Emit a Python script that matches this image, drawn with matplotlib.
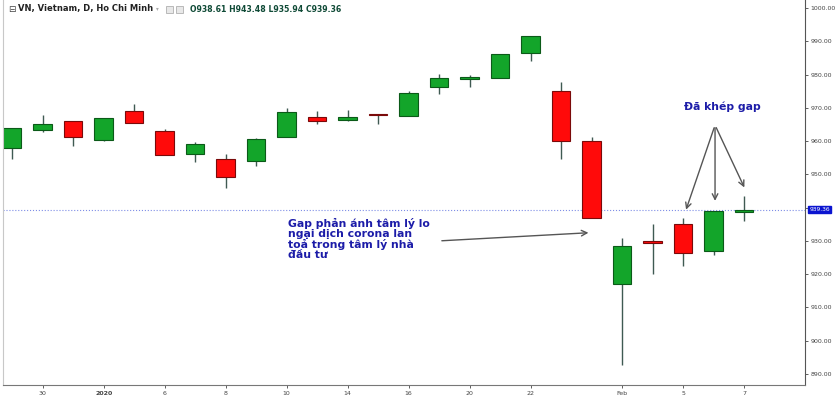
import numpy as np
import matplotlib.pyplot as plt
from matplotlib.patches import Rectangle

# daily VN-Index candles, Dec 27 2019 .. Feb 7 2020
dates = ['27', '30', '31', '2020', '3', '6', '7', '8', '9', '10', '13', '14', '15',
         '16', '17', '20', '21', '22', '23', '31', 'Feb', '4', '5', '6', '7']
opens = [957.9, 963.2, 966.0, 960.3, 968.9, 963.1, 956.0, 954.5, 954.0, 961.3, 967.2, 966.4, 968.0,
         967.5, 976.3, 978.8, 978.9, 986.6, 975.1, 959.9, 917.2, 929.7, 935.0, 926.9, 938.61]
highs = [964.0, 967.8, 966.0, 967.0, 971.2, 963.6, 959.7, 956.1, 961.0, 970.0, 969.0, 969.2, 968.0,
         975.1, 980.2, 979.9, 986.3, 991.5, 977.8, 961.3, 930.8, 935.2, 936.8, 939.0, 943.48]
lows = [954.5, 962.8, 958.5, 960.0, 965.3, 955.9, 953.6, 945.8, 952.5, 961.3, 965.0, 966.1, 965.2,
        967.5, 974.2, 976.3, 978.9, 984.2, 954.5, 936.9, 892.6, 920.0, 922.5, 925.8, 935.94]
closes = [963.8, 965.2, 961.1, 966.9, 965.3, 955.9, 959.2, 949.2, 960.5, 968.8, 966.0, 967.3, 967.7,
          974.5, 979.1, 979.0, 986.3, 991.5, 960.0, 936.9, 928.4, 929.5, 926.3, 938.9, 939.36]
label_idx = [1, 3, 5, 7, 9, 11, 13, 15, 17, 20, 22, 24]
last_close = 939.36

up_face, up_edge = '#13a52a', '#0b5a18'
dn_face, dn_edge = '#ff0a0a', '#7a0a0a'
wick_col = '#3f5a52'
note_col = '#1c1ca8'

fig = plt.figure(figsize=(8.4, 4.03), dpi=100)
ax = fig.add_axes([3/840, 18/403, 802/840, 385/403])

x = np.arange(len(dates))
o = np.array(opens); c = np.array(closes)
h = np.array(highs); l = np.array(lows)
up = c >= o

ax.vlines(x, l, h, color=wick_col, lw=1.0, zorder=1)
bottoms = np.minimum(o, c)
heights = np.maximum(np.abs(c - o), 0.5)
ax.bar(x[up], heights[up], bottom=bottoms[up], width=0.6, color=up_face,
       edgecolor=up_edge, lw=0.8, zorder=2)
ax.bar(x[~up], heights[~up], bottom=bottoms[~up], width=0.6, color=dn_face,
       edgecolor=dn_edge, lw=0.8, zorder=2)

ax.axhline(last_close, color='#7f8ee6', lw=0.8, ls=':', zorder=0)

ax.set_xlim(-0.3, 26.0)
ax.set_ylim(886.7, 1002.4)

ax.yaxis.tick_right()
ax.set_yticks(np.arange(890, 1001, 10))
ax.set_yticklabels(['%.2f' % v for v in np.arange(890, 1001, 10)])
ax.set_xticks(x[label_idx])
ax.set_xticklabels([dates[i] for i in label_idx])
for t in ax.get_xticklabels():
    if t.get_text() == '2020':
        t.set_fontweight('bold')
ax.tick_params(axis='both', labelsize=4.5, colors='#444444', length=2.5, width=0.6, pad=1.5)
ax.spines['top'].set_visible(False)
ax.spines['left'].set_color('#c8c8c8')
ax.spines['right'].set_color('#555555')
ax.spines['bottom'].set_color('#777777')
for s in ['left', 'right', 'bottom']:
    ax.spines[s].set_linewidth(0.8)

ax.annotate('%.2f' % last_close, xy=(1.0, last_close), xycoords=('axes fraction', 'data'),
            xytext=(3, 0), textcoords='offset points', va='center', ha='left',
            fontsize=4.3, color='white',
            bbox=dict(boxstyle='square,pad=0.2', fc='#0a14d0', ec='#0a14d0'))

# header
fig.text(8/840, 1 - 9/403, '⊟', fontsize=6.5, color='#444444', va='center')
fig.text(18/840, 1 - 9/403, 'VN, Vietnam, D, Ho Chi Minh', fontsize=6,
         fontweight='bold', color='#222222', va='center')
fig.text(156/840, 1 - 9/403, '▾', fontsize=4, color='#aaaaaa', va='center')
for bx in [166, 176]:
    fig.patches.append(Rectangle((bx/840, 1 - 13/403), 7/840, 7/403, transform=fig.transFigure,
                                 fc='#e8e8e8', ec='#b0b0b0', lw=0.6))
fig.text(190/840, 1 - 9/403, 'O938.61 H943.48 L935.94 C939.36', fontsize=5.6,
         fontweight='bold', color='#0f4a36', va='center')

# annotations
ax.text(9.05, 937.0, 'Gap phản ánh tâm lý lo\nngại dịch corona lan\ntoả trong tâm lý nhà\nđầu tư',
        fontsize=7.8, fontweight='bold', color=note_col, va='top', ha='left', linespacing=1.02)
ax.annotate('', xy=(18.99, 932.5), xytext=(14.0, 930.0),
            arrowprops=dict(arrowstyle='->', color='#555555', lw=1.0))
ax.text(23.3, 970.2, 'Đã khép gap', fontsize=7.8, fontweight='bold', color=note_col,
        ha='center', va='center')
apex = (23.05, 964.8)
for tip in [(22.07, 938.6), (23.05, 941.2), (24.05, 945.3)]:
    ax.annotate('', xy=tip, xytext=apex,
                arrowprops=dict(arrowstyle='->', color='#555555', lw=1.0))

plt.savefig('out.png', dpi=100)
